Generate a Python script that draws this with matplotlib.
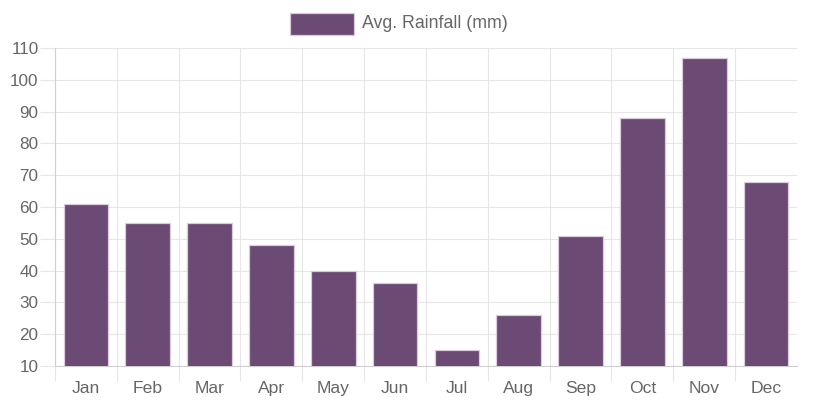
import matplotlib
matplotlib.use("Agg")
import matplotlib.pyplot as plt
from matplotlib.patches import Rectangle
import numpy as np

months = ["Jan", "Feb", "Mar", "Apr", "May", "Jun", "Jul", "Aug", "Sep", "Oct", "Nov", "Dec"]
rainfall = [61, 55, 55, 48, 40, 36, 15, 26, 51, 88, 107, 68]
series_label = "Avg. Rainfall (mm)"
y_ticks = [10, 20, 30, 40, 50, 60, 70, 80, 90, 100, 110]

W, H = 816, 408
plt.rcParams['font.family'] = ['Liberation Sans', 'DejaVu Sans']
fig = plt.figure(figsize=(W / 100, H / 100), dpi=100)

L, R, T, B = 55, 797, 48, 366
ax = fig.add_axes([L / W, (H - B) / H, (R - L) / W, (B - T) / H])

bar_color = "#6b4a73"
edge_color = "#d9cadc"
x = np.arange(len(months))
ax.bar(x, rainfall, width=0.72, color=bar_color, edgecolor=edge_color, linewidth=0.9, zorder=3)

ax.set_xlim(-0.5, len(months) - 0.5)
ax.set_ylim(y_ticks[0], y_ticks[-1])

grid_c = "#e6e6e6"
ax.set_yticks(y_ticks)
ax.set_yticklabels([str(v) for v in y_ticks])
ax.set_xticks(x)
ax.set_xticklabels(months)
bounds = np.arange(len(months)) - 0.5
ax.set_xticks(bounds, minor=True)

ax.tick_params(axis='x', which='major', length=0, pad=10.5, labelsize=12.6, labelcolor="#666666")
ax.tick_params(axis='x', which='minor', length=10.8, width=0.8, color=grid_c)
ax.tick_params(axis='y', which='major', length=10.8, width=0.8, color=grid_c, pad=1,
               labelsize=12.3, labelcolor="#666666")

for v in y_ticks:
    ax.axhline(v, color=grid_c, linewidth=0.8, zorder=0)
for b in bounds:
    ax.axvline(b, color=grid_c, linewidth=0.8, zorder=0)

for s in ["top", "right"]:
    ax.spines[s].set_visible(False)
ax.spines["left"].set_color("#cfcfcf")
ax.spines["bottom"].set_color("#cfcfcf")
ax.spines["left"].set_linewidth(0.8)
ax.spines["bottom"].set_linewidth(0.8)

# legend
fig.patches.append(Rectangle((290 / W, (H - 35) / H), 64 / W, 22 / H,
                             transform=fig.transFigure, facecolor=bar_color,
                             edgecolor=edge_color, linewidth=0.9))
fig.text(362 / W, (H - 23) / H, series_label, ha='left', va='center',
         fontsize=12.8, color="#666666")

fig.savefig("out.png", dpi=100)
